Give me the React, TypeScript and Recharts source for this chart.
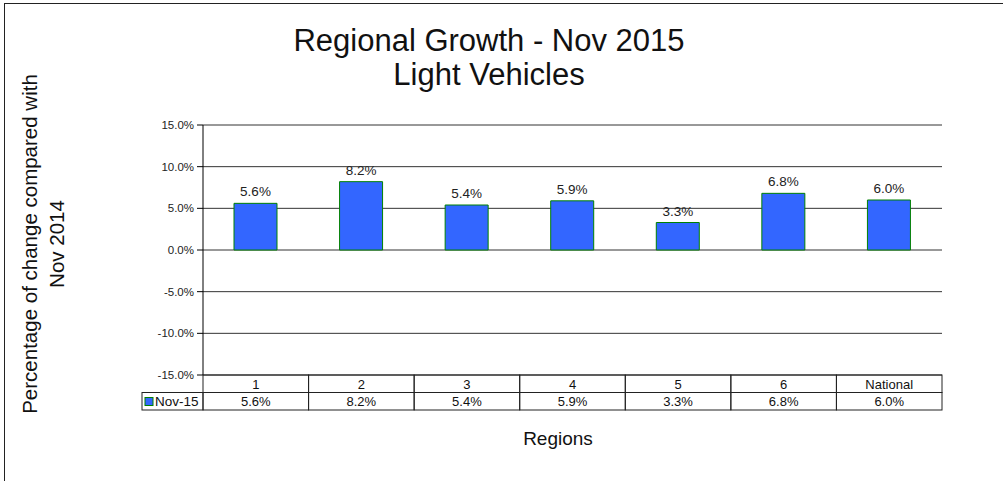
import { BarChart, Bar, XAxis, YAxis, CartesianGrid, LabelList } from 'recharts'

const regions = ['1', '2', '3', '4', '5', '6', 'National']
const nov15 = [5.6, 8.2, 5.4, 5.9, 3.3, 6.8, 6.0]
const yTicks = [-15, -10, -5, 0, 5, 10, 15]
const seriesName = 'Nov-15'

const data = regions.map((r, i) => ({ region: r, value: nov15[i] }))

const W = 1003
const H = 481
const PLOT_LEFT = 203
const PLOT_RIGHT = 942
const PLOT_TOP = 125
const PLOT_BOTTOM = 375
const ROW_H = 17.5
const BAND = (PLOT_RIGHT - PLOT_LEFT) / regions.length
const FONT = 'Arial, "Liberation Sans", sans-serif'

const pct = (v: number) => `${v.toFixed(1)}%`

function TableTick(props: any) {
    const { x, payload } = props
    const i = payload.index
    const left = x - BAND / 2
    const y1 = PLOT_BOTTOM
    const y2 = PLOT_BOTTOM + ROW_H
    return (
        <g>
            <rect x={left} y={y1} width={BAND} height={ROW_H} fill='none' stroke='#222' />
            <text x={x} y={y1 + 13.5} textAnchor='middle' fontSize={13} fontFamily={FONT} fill='#111'>
                {payload.value}
            </text>
            <rect x={left} y={y2} width={BAND} height={ROW_H} fill='none' stroke='#222' />
            <text x={x} y={y2 + 13.5} textAnchor='middle' fontSize={13} fontFamily={FONT} fill='#111'>
                {pct(nov15[i])}
            </text>
            {i === 0 && (
                <g>
                    <rect x={142} y={y2} width={left - 142} height={ROW_H} fill='none' stroke='#222' />
                    <rect x={145} y={y2 + 5} width={8} height={8} fill='#3366FF' stroke='#008000' />
                    <text x={155} y={y2 + 13.5} fontSize={13.5} fontFamily={FONT} fill='#111'>
                        {seriesName}
                    </text>
                </g>
            )}
        </g>
    )
}

export default function App() {
    return (
        <div style={{ position: 'absolute', left: 0, top: 0, width: W, height: H, overflow: 'hidden', background: '#fff', fontFamily: FONT }}>
            <div style={{ position: 'absolute', left: 4, top: 3, width: W + 20, height: H + 20, border: '1px solid #222' }} />
            <BarChart
                width={W}
                height={H}
                data={data}
                margin={{ top: PLOT_TOP, bottom: H - PLOT_BOTTOM - 40, left: PLOT_LEFT - 60, right: W - PLOT_RIGHT }}
                barSize={43}
            >
                <CartesianGrid vertical={false} stroke='#333' />
                <XAxis
                    dataKey='region'
                    height={40}
                    axisLine={false}
                    tickLine={false}
                    interval={0}
                    tick={<TableTick />}
                />
                <YAxis
                    width={60}
                    domain={[-15, 15]}
                    ticks={yTicks}
                    tickFormatter={pct}
                    tick={{ fontSize: 11.5, fill: '#222', fontFamily: FONT }}
                    tickSize={6}
                    tickMargin={3}
                    stroke='#000'
                    tickLine={{ stroke: '#000' }}
                />
                <YAxis
                    yAxisId='right'
                    orientation='right'
                    width={0}
                    domain={[-15, 15]}
                    tick={false}
                    tickLine={false}
                    stroke='#888'
                />
                <Bar dataKey='value' fill='#3366FF' stroke='#008000' strokeWidth={1} isAnimationActive={false}>
                    <LabelList dataKey='value' position='top' offset={7} formatter={(v: any) => pct(Number(v))} fontSize={13.5} fill='#222' fontFamily={FONT} />
                </Bar>
            </BarChart>
            <div style={{ position: 'absolute', left: 0, width: 978, top: 24, textAlign: 'center', fontSize: 31, lineHeight: '34px', color: '#111' }}>
                Regional Growth - Nov 2015
                <br />
                Light Vehicles
            </div>
            <div
                style={{
                    position: 'absolute',
                    left: 43,
                    top: 244,
                    width: 420,
                    transform: 'translate(-50%, -50%) rotate(-90deg)',
                    textAlign: 'center',
                    fontSize: 20.5,
                    lineHeight: '27px',
                    color: '#111',
                }}
            >
                Percentage of change compared with
                <br />
                Nov 2014
            </div>
            <div style={{ position: 'absolute', left: 458, width: 200, top: 429, textAlign: 'center', fontSize: 19, lineHeight: '20px', color: '#111' }}>
                Regions
            </div>
        </div>
    )
}
